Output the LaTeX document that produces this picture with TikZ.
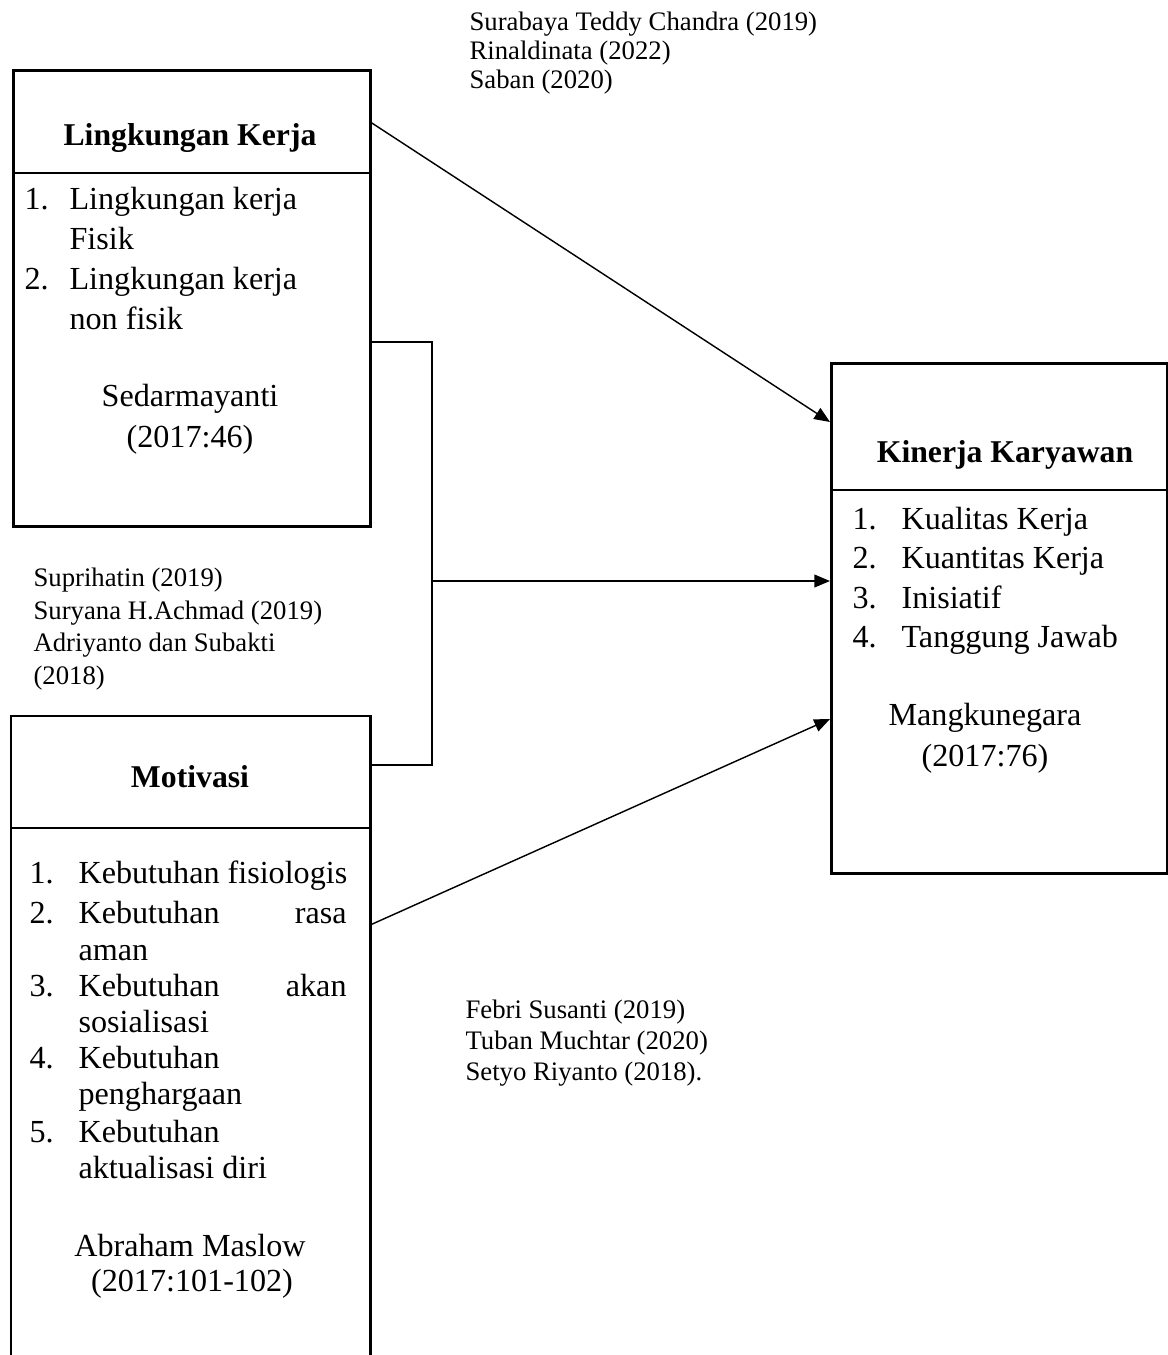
\documentclass[tikz,border=0pt]{standalone}
\usepackage{fontspec}
\setmainfont{Liberation Serif}
\usetikzlibrary{arrows.meta}
\tikzset{
  var_box/.style = {rectangle, draw=black, line width=1pt, inner sep=0pt},
  var_ttl/.style = {inner sep=0pt, font=\bfseries\fontsize{11.1}{13}\selectfont},
  itm/.style = {anchor=mid west, inner sep=0pt, yshift=-1.6pt,
    font=\fontsize{11.25}{13}\selectfont},% butir indikator
  src/.style = {inner sep=0pt, yshift=-0.8pt,
    font=\fontsize{11.25}{13}\selectfont},% sumber teori
  ref_txt/.style = {anchor=mid west, inner sep=0pt, yshift=-0.7pt,
    font=\fontsize{9.35}{11}\selectfont},
  link/.style = {->, line width=0.5pt}
}
\begin{document}
\begin{tikzpicture}[x=0.35pt,y=-0.35pt,>={Triangle[length=5.5pt,width=4.5pt]}]
\useasboundingbox (0,0) rectangle (1168,1355);
% kotak variabel
\node [var_box, anchor=north west, minimum width=124.95pt,
  minimum height=159.6pt] (lk) at (12,69) {};
\node [var_box, anchor=north west, minimum width=117.6pt,
  minimum height=178.5pt] (kk) at (830,362) {};
\node [rectangle, inner sep=0pt, anchor=north west, minimum width=125.3pt,
  minimum height=224.7pt] (mot) at (11,716) {};
\draw [line width=1pt] (mot.south west) -- (mot.north west)
  -- (mot.north east) -- (mot.south east);
% garis pemisah judul
\draw [line width=0.4pt] (lk.west |- 0,173) -- (lk.east |- 0,173);
\draw [line width=0.4pt] (kk.west |- 0,490) -- (kk.east |- 0,490);
\draw [line width=0.4pt] (mot.west |- 0,828) -- (mot.east |- 0,828);
% judul
\node [var_ttl] (lk_ttl) at (190,138) {Lingkungan Kerja};
\node [var_ttl] (kk_ttl) at (1005,455) {Kinerja Karyawan};
\node [var_ttl] (mot_ttl) at (190,777) {Motivasi};
% Lingkungan Kerja
\node [itm] (lk_n1) at (24,198) {1.};
\node [itm] (lk_i1) at (69,198) {Lingkungan kerja};
\node [itm] (lk_i1b) at (69,238) {Fisik};
\node [itm] (lk_n2) at (24,278) {2.};
\node [itm] (lk_i2) at (69,278) {Lingkungan kerja};
\node [itm] (lk_i2b) at (69,318) {non fisik};
\node [src] (lk_src) at (190,397) {Sedarmayanti};
\node [src] (lk_thn) at (190,437) {(2017:46)};
% Kinerja Karyawan
\foreach \t [count=\i] in {Kualitas Kerja, Kuantitas Kerja, Inisiatif, Tanggung Jawab}{
  \node [itm] (kk_n\i) at (852,{518+39.6*(\i-1)}) {\i.};
  \node [itm] (kk_i\i) at (901,{518+39.6*(\i-1)}) {\t};
}
\node [src] (kk_src) at (985,716) {Mangkunegara};
\node [src] (kk_thn) at (985,756) {(2017:76)};
% Motivasi
\node [itm] (mot_n1) at (29,872) {1.};
\node [itm] (mot_i1) at (78,872) {Kebutuhan fisiologis};
\node [itm] (mot_n2) at (29,912) {2.};
\node [itm, text width=93.8pt] (mot_i2) at (78,912) {Kebutuhan\hfill rasa};
\node [itm] (mot_i2b) at (78,949) {aman};
\node [itm] (mot_n3) at (29,985) {3.};
\node [itm, text width=93.8pt] (mot_i3) at (78,985) {Kebutuhan\hfill akan};
\node [itm] (mot_i3b) at (78,1021) {sosialisasi};
\node [itm] (mot_n4) at (29,1057) {4.};
\node [itm] (mot_i4) at (78,1057) {Kebutuhan};
\node [itm] (mot_i4b) at (78,1093) {penghargaan};
\node [itm] (mot_n5) at (29,1131) {5.};
\node [itm] (mot_i5) at (78,1131) {Kebutuhan};
\node [itm] (mot_i5b) at (78,1167) {aktualisasi diri};
\node [src] (mot_src) at (190,1243) {Abraham Maslow};
\node [src] (mot_thn) at (192,1281) {(2017:101-102)};
% rujukan penelitian
\foreach \t [count=\i] in {Surabaya Teddy Chandra (2019), Rinaldinata (2022), Saban (2020)}
  \node [ref_txt] (ref_a\i) at (469,{22+29*(\i-1)}) {\t};
\foreach \t [count=\i] in {Suprihatin (2019), Suryana H.Achmad (2019),
    Adriyanto dan Subakti, (2018)}
  \node [ref_txt] (ref_b\i) at (33,{578+32.7*(\i-1)}) {\t};
\foreach \t [count=\i] in {Febri Susanti (2019), Tuban Muchtar (2020), Setyo Riyanto (2018).}
  \node [ref_txt] (ref_c\i) at (465,{1010+31*(\i-1)}) {\t};
% penghubung
\coordinate (lk_out) at (lk.east |- 0,123);
\coordinate (kk_in1) at (kk.west |- 0,422);
\coordinate (br_top) at (432,342);
\coordinate (br_mid) at (432,581);
\coordinate (br_bot) at (432,765);
\coordinate (mot_out) at (mot.east |- 0,925);
\coordinate (kk_in3) at (kk.west |- 0,719);
\draw [link] (lk_out) -- (kk_in1);
\draw [line width=0.5pt] (lk.east |- br_top) -- (br_top) -- (br_bot) -- (mot.east |- br_bot);
\draw [link] (br_mid) -- (kk.west |- br_mid);
\draw [link] (mot_out) -- (kk_in3);
\end{tikzpicture}
\end{document}
